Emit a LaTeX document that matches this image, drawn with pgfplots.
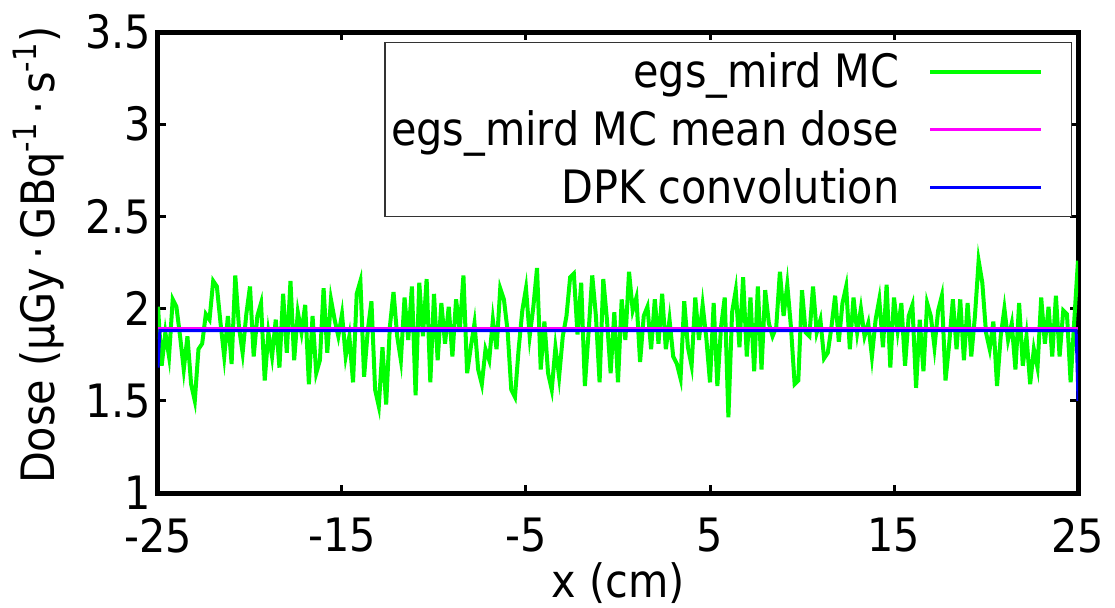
\documentclass[border=0pt]{standalone}
\usepackage{pgfplots}
\pgfplotsset{compat=1.18}
\usepackage{fontspec}
\setmainfont{DejaVu Sans Condensed}

% Monte Carlo dose profile along x (cm), dose in uGy/GBq/s
\pgfplotstableread{
x dose
-25.0 2.01
-24.8 1.69
-24.6 1.87
-24.4 1.74
-24.2 2.05
-24.0 2.01
-23.8 1.85
-23.6 1.67
-23.4 1.85
-23.2 1.59
-23.0 1.50
-22.8 1.78
-22.6 1.81
-22.4 1.97
-22.2 1.94
-22.0 2.15
-21.8 2.12
-21.6 1.92
-21.4 1.74
-21.2 1.96
-21.0 1.70
-20.8 2.18
-20.6 1.90
-20.4 1.76
-20.2 1.97
-20.0 2.12
-19.8 1.74
-19.6 1.96
-19.4 2.03
-19.2 1.61
-19.0 1.87
-18.8 1.74
-18.6 1.94
-18.4 1.68
-18.2 2.08
-18.0 1.76
-17.8 2.15
-17.6 1.72
-17.4 1.98
-17.2 1.87
-17.0 2.02
-16.8 1.59
-16.6 1.96
-16.4 1.65
-16.2 1.72
-16.0 2.11
-15.8 1.76
-15.6 2.05
-15.4 1.94
-15.2 1.85
-15.0 1.97
-14.8 1.74
-14.6 1.85
-14.4 1.60
-14.2 2.08
-14.0 2.15
-13.8 1.63
-13.6 1.88
-13.4 2.04
-13.2 1.56
-13.0 1.47
-12.8 1.79
-12.6 1.48
-12.4 1.90
-12.2 2.09
-12.0 1.85
-11.8 1.72
-11.6 2.06
-11.4 1.83
-11.2 2.12
-11.0 1.53
-10.8 2.14
-10.6 1.85
-10.4 2.16
-10.2 1.60
-10.0 2.08
-9.8 1.72
-9.6 2.03
-9.4 1.81
-9.2 2.01
-9.0 1.74
-8.8 2.05
-8.6 1.88
-8.4 2.18
-8.2 1.65
-8.0 1.79
-7.8 1.92
-7.6 1.67
-7.4 1.59
-7.2 1.78
-7.0 1.72
-6.8 1.94
-6.6 1.78
-6.4 2.11
-6.2 2.05
-6.0 1.88
-5.8 1.56
-5.6 1.52
-5.4 1.78
-5.2 1.99
-5.0 2.11
-4.8 1.85
-4.6 2.01
-4.4 2.22
-4.2 1.67
-4.0 1.93
-3.8 1.65
-3.6 1.56
-3.4 1.79
-3.2 1.63
-3.0 1.85
-2.8 1.96
-2.6 2.17
-2.4 2.19
-2.2 1.86
-2.0 2.14
-1.8 1.58
-1.6 1.87
-1.4 2.18
-1.2 1.96
-1.0 1.60
-0.8 2.16
-0.6 1.94
-0.4 1.65
-0.2 1.98
0.0 1.60
0.2 2.05
0.4 1.83
0.6 2.20
0.8 1.99
1.0 2.06
1.2 1.71
1.4 1.96
1.6 2.01
1.8 1.78
2.0 2.05
2.2 1.81
2.4 2.08
2.6 1.78
2.8 1.94
3.0 1.74
3.2 1.70
3.4 1.62
3.6 2.04
3.8 1.79
4.0 1.69
4.2 2.06
4.4 1.83
4.6 2.02
4.8 1.84
5.0 1.60
5.2 2.03
5.4 1.58
5.6 1.90
5.8 2.06
6.0 1.41
6.2 1.98
6.4 2.10
6.6 1.79
6.8 2.17
7.0 1.74
7.2 2.06
7.4 1.66
7.6 2.12
7.8 1.67
8.0 2.10
8.2 1.92
8.4 1.85
8.6 1.90
8.8 2.20
9.0 1.96
9.2 2.13
9.4 1.90
9.6 1.59
9.8 1.61
10.0 2.10
10.2 1.87
10.4 1.85
10.6 2.12
10.8 1.87
11.0 1.94
11.2 1.73
11.4 1.76
11.6 1.90
11.8 2.07
12.0 1.82
12.2 2.03
12.4 2.12
12.6 1.78
12.8 2.06
13.0 1.87
13.2 2.00
13.4 1.85
13.6 1.92
13.8 1.74
14.0 1.94
14.2 2.05
14.4 1.79
14.6 2.13
14.8 1.68
15.0 2.06
15.2 1.88
15.4 2.03
15.6 1.69
15.8 1.96
16.0 2.02
16.2 1.57
16.4 1.94
16.6 1.66
16.8 2.03
17.0 1.96
17.2 1.79
17.4 1.99
17.6 2.07
17.8 1.61
18.0 1.81
18.2 2.05
18.4 1.78
18.6 2.05
18.8 1.72
19.0 2.03
19.2 1.74
19.4 1.96
19.6 2.26
19.8 2.14
20.0 1.87
20.2 1.78
20.4 1.93
20.6 1.58
20.8 1.85
21.0 2.00
21.2 1.83
21.4 1.92
21.6 1.67
21.8 2.03
22.0 1.69
22.2 1.85
22.4 1.59
22.6 1.78
22.8 1.68
23.0 2.06
23.2 1.81
23.4 2.01
23.6 1.74
23.8 2.07
24.0 1.74
24.2 1.99
24.4 1.97
24.6 1.60
24.8 1.94
25.0 2.26
}\mcdata

% mean of the Monte Carlo profile
\pgfplotstableread{
x dose
-25 1.89
25 1.89
}\meandata

% convolution with the dose point kernel
\pgfplotstableread{
x dose
-25.0 1.68
-24.9 1.88
24.9 1.88
25.0 1.50
}\dpkdata

\definecolor{mcgreen}{RGB}{0,255,0}
\definecolor{meanmag}{RGB}{255,0,255}
\definecolor{dpkblue}{RGB}{0,0,255}

\begin{document}
\begin{tikzpicture}
\begin{axis}[
  name=ax,
  scale only axis,
  width=460pt, height=230.5pt,
  xmin=-25, xmax=25, ymin=1, ymax=3.5,
  xtick={-25,-15,-5,5,15,25},
  xticklabels={-25,-15,-5,5,15,25},
  ytick={1,1.5,2,2.5,3,3.5},
  yticklabels={1,1.5,2,2.5,3,3.5},
  tick align=inside,
  major tick length=4pt,
  axis line style={line width=2.5pt},
  every tick/.style={black, line width=1.5pt},
  font=\fontsize{23}{27}\selectfont,
  xticklabel style={yshift=-9pt},
  xlabel={x (cm)},
  ylabel={Dose (µGy\,·\,GBq\textsuperscript{-1}\,·\,s\textsuperscript{-1})},
  xlabel style={at={(axis description cs:0.5,-0.195)}, anchor=center},
  ylabel style={at={(axis description cs:-0.13,0.516)}, anchor=center},
  legend cell align=right,
  legend plot pos=right,
  legend style={at={(axis description cs:0.9935,0.978)}, anchor=north east,
    draw=black!80, line width=0.6pt, fill=white,
    font=\fontsize{23}{27}\selectfont,
    inner xsep=1pt, inner ysep=3pt, row sep=6pt},
  legend image code/.code={
    \path[draw=none] (0pt,0pt) -- (83pt,0pt);
    \draw[#1] (13.5pt,0pt) -- (69pt,0pt);},
]
\addplot[mcgreen, line width=2pt] table[x=x, y=dose] {\mcdata};
\addlegendentry{egs\_mird MC}
\addplot[meanmag, line width=1.5pt] table[x=x, y=dose] {\meandata};
\addlegendentry{egs\_mird MC mean dose}
\addplot[dpkblue, line width=1.5pt] table[x=x, y=dose] {\dpkdata};
\addlegendentry{DPK convolution}
\end{axis}
\pgfresetboundingbox
\path ([xshift=-79pt, yshift=-57pt]ax.south west) rectangle ([xshift=18.5pt, yshift=16pt]ax.north east);
\end{tikzpicture}
\end{document}
